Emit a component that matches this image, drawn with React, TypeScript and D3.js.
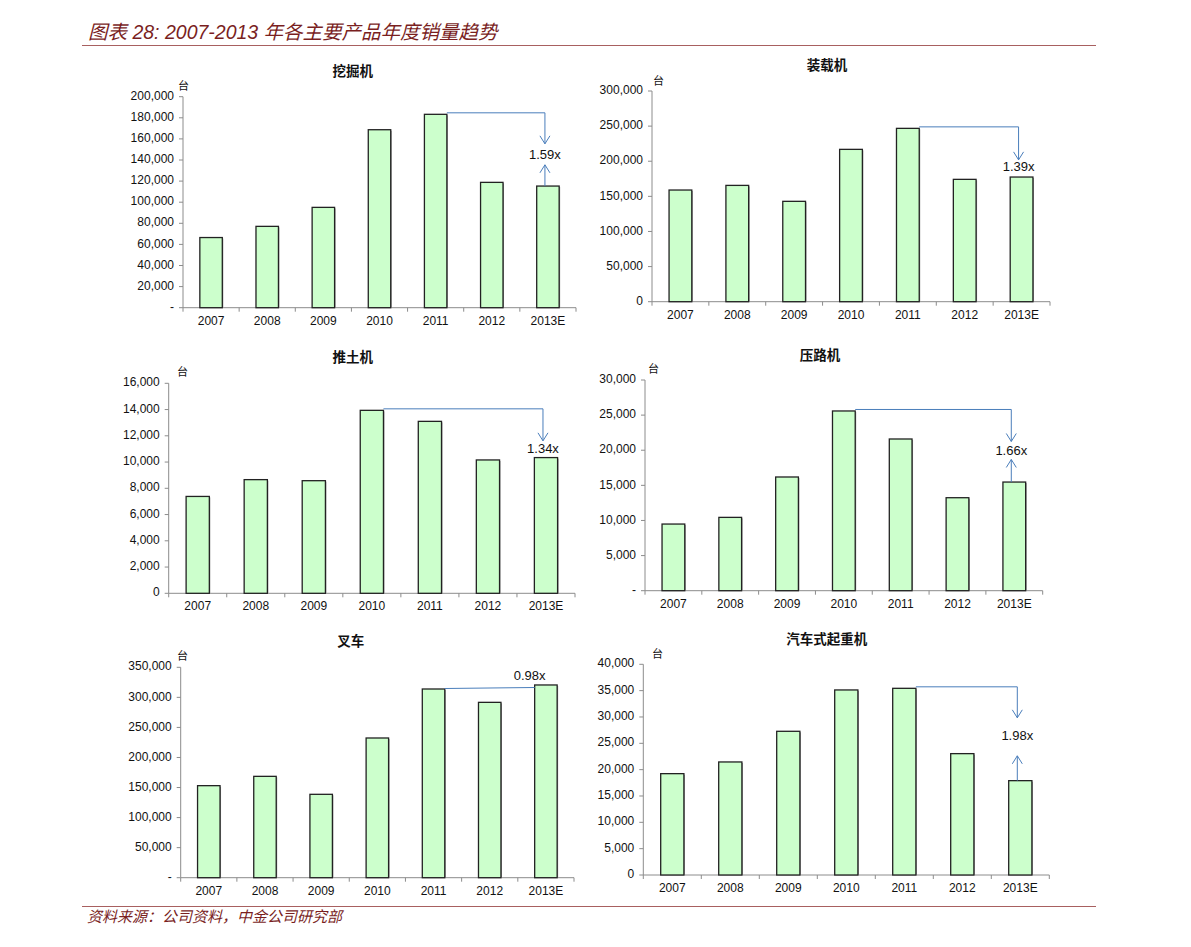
import React from "react";
import * as d3 from "d3";

const categories = ["2007", "2008", "2009", "2010", "2011", "2012", "2013E"];

const excavator = [66500, 77100, 95100, 168700, 183300, 118800, 115300];
const loader = [159000, 165600, 142900, 216900, 246800, 174200, 177500];
const bulldozer = [7380, 8660, 8580, 13940, 13100, 10160, 10340];
const roller = [9490, 10440, 16190, 25590, 21600, 13240, 15470];
const forklift = [153100, 168600, 138700, 232400, 313900, 291700, 320600];
const truckCrane = [19240, 21460, 27280, 35130, 35440, 23040, 17910];

const panelTitles = ["挖掘机", "装载机", "推土机", "压路机", "叉车", "汽车式起重机"];
const yMaxes = [200000, 300000, 16000, 30000, 350000, 40000];
const ySteps = [20000, 50000, 2000, 5000, 50000, 5000];
const zeroLabels = ["-", "0", "0", "-", "-", "0"];
const multipleLabels = ["1.59x", "1.39x", "1.34x", "1.66x", "0.98x", "1.98x"];
const seriesList = [excavator, loader, bulldozer, roller, forklift, truckCrane];

// layout (positions only)
const layouts = [
  { left: 183, right: 576, top: 96.7, bottom: 307.7, tx: 352.7, ty: 72.3, ux: 178, uy: 86.7 },
  { left: 652, right: 1050, top: 91, bottom: 301.7, tx: 827, ty: 66, ux: 653, uy: 81.7 },
  { left: 168.7, right: 575, top: 383.3, bottom: 593.3, tx: 352.7, ty: 358, ux: 177, uy: 373 },
  { left: 645, right: 1042.7, top: 380, bottom: 590.7, tx: 820, ty: 356, ux: 648, uy: 370 },
  { left: 180.7, right: 574, top: 667.3, bottom: 877.7, tx: 350.7, ty: 642, ux: 177, uy: 656.7 },
  { left: 643.3, right: 1049.3, top: 664.3, bottom: 875, tx: 826.7, ty: 640, ux: 652, uy: 655 },
];

// annotation config: from bar index -> to bar index
const annots = [
  { from: 4, to: 6, drop: 31, labelDy: 12, up: true, upGap: 9, flat: false },
  { from: 4, to: 6, drop: 33, labelDy: 8, up: false, upGap: 0, flat: false },
  { from: 3, to: 6, drop: 32, labelDy: 9, up: false, upGap: 0, flat: false },
  { from: 3, to: 6, drop: 32, labelDy: 10, up: true, upGap: 8, flat: false },
  { from: 4, to: 6, drop: 0, labelDy: 0, up: false, upGap: 0, flat: true },
  { from: 4, to: 6, drop: 31, labelDy: 19, up: true, upGap: 19, flat: false },
];

const AX = "#8c8c8c";
const ARROW = "#4a7ebb";
const LATIN = "'Liberation Sans', Arial, Helvetica, sans-serif";
const CJK = "'Noto Sans CJK SC', sans-serif";
const MIX = "'Liberation Sans', 'Noto Sans CJK SC', sans-serif";
const RED = "#7a1f1f";

function Panel({ idx }: { idx: number }) {
  const L = layouts[idx];
  const data = seriesList[idx];
  const x = d3.scaleBand<string>().domain(categories).range([L.left, L.right]).paddingInner(0.6).paddingOuter(0.3);
  const y = d3.scaleLinear().domain([0, yMaxes[idx]]).range([L.bottom, L.top]);
  const ticks = d3.range(0, yMaxes[idx] + 1, ySteps[idx]);
  const fmt = d3.format(",");
  const step = x.step();
  const a = annots[idx];
  const fromX = (x(categories[a.from]) as number) + x.bandwidth();
  const fromY = y(data[a.from]) - 1.5;
  const toCx = (x(categories[a.to]) as number) + x.bandwidth() / 2 - 3;
  const toTop = y(data[a.to]);
  const tipY = fromY + a.drop;
  const labelY = tipY + a.labelDy;
  const head = (tx: number, ty: number, dir: number) =>
    `M${tx - 5},${ty - dir * 8}L${tx},${ty}L${tx + 5},${ty - dir * 8}`;

  return (
    <g>
      <text x={L.tx} y={L.ty} textAnchor="middle" dominantBaseline="middle" fontFamily={CJK} fontWeight="bold" fontSize={13.5} fill="#111">
        {panelTitles[idx]}
      </text>
      <text x={L.ux} y={L.uy} dominantBaseline="middle" fontFamily={CJK} fontSize={11} fill="#111">台</text>
      {/* y axis */}
      <line x1={L.left} x2={L.left} y1={L.top} y2={L.bottom} stroke={AX} strokeWidth={1} />
      {ticks.map((t) => (
        <g key={t}>
          <line x1={L.left - 4} x2={L.left} y1={y(t)} y2={y(t)} stroke={AX} />
          <text x={L.left - 9} y={y(t)} textAnchor="end" dominantBaseline="middle" fontFamily={LATIN} fontSize={12} fill="#111">
            {t === 0 ? zeroLabels[idx] : fmt(t)}
          </text>
        </g>
      ))}
      {/* x axis */}
      <line x1={L.left} x2={L.right} y1={L.bottom} y2={L.bottom} stroke={AX} strokeWidth={1} />
      {d3.range(0, categories.length + 1).map((i) => (
        <line key={i} x1={L.left + i * step} x2={L.left + i * step} y1={L.bottom} y2={L.bottom + 4} stroke={AX} />
      ))}
      {categories.map((c) => (
        <text key={c} x={(x(c) as number) + x.bandwidth() / 2} y={L.bottom + 14} textAnchor="middle" dominantBaseline="middle" fontFamily={LATIN} fontSize={12} fill="#111">
          {c}
        </text>
      ))}
      {/* bars */}
      {data.map((v, i) => (
        <g key={i}>
          <rect x={(x(categories[i]) as number) + 1} y={y(v) + 1} width={x.bandwidth()} height={L.bottom - y(v) - 1} fill="#9a9a9a" />
          <rect x={x(categories[i]) as number} y={y(v)} width={x.bandwidth()} height={L.bottom - y(v)} fill="#ccffcc" stroke="#222" strokeWidth={1.3} />
        </g>
      ))}
      {/* annotation */}
      {a.flat ? (
        <g>
          <line x1={fromX} y1={fromY + 1} x2={x(categories[a.to]) as number} y2={fromY} stroke={ARROW} strokeWidth={1} />
          <text x={(x(categories[a.to]) as number) - 5} y={y(data[a.to]) - 8} textAnchor="middle" dominantBaseline="middle" fontFamily={LATIN} fontSize={13} fill="#111">
            {multipleLabels[idx]}
          </text>
        </g>
      ) : (
        <g fill="none" stroke={ARROW} strokeWidth={1}>
          <path d={`M${fromX},${fromY}L${toCx},${fromY}L${toCx},${tipY}`} />
          <path d={head(toCx, tipY, 1)} />
          {a.up && (
            <g>
              <path d={`M${toCx},${toTop}L${toCx},${labelY + a.upGap}`} />
              <path d={head(toCx, labelY + a.upGap, -1)} />
            </g>
          )}
          <text x={toCx} y={labelY} textAnchor="middle" dominantBaseline="middle" fontFamily={LATIN} fontSize={13} fill="#111" stroke="none">
            {multipleLabels[idx]}
          </text>
        </g>
      )}
    </g>
  );
}

export default function App() {
  return (
    <svg width={1191} height={947} style={{ position: "absolute", left: 0, top: 0, background: "#fff" }}>
      <rect width={1191} height={947} fill="#fff" />
      <text x={88} y={39} fontFamily={MIX} fontStyle="italic" fontSize={19.5} fill={RED}>
        图表 28: 2007-2013 年各主要产品年度销量趋势
      </text>
      <line x1={82} x2={1096} y1={45.5} y2={45.5} stroke="#a86060" strokeWidth={1.2} />
      {d3.range(0, 6).map((i) => (
        <Panel key={i} idx={i} />
      ))}
      <line x1={82} x2={1096} y1={906.5} y2={906.5} stroke="#a86060" strokeWidth={1.2} />
      <text x={87} y={922} fontFamily={CJK} fontStyle="italic" fontSize={15} fill={RED}>
        资料来源：公司资料，中金公司研究部
      </text>
    </svg>
  );
}
